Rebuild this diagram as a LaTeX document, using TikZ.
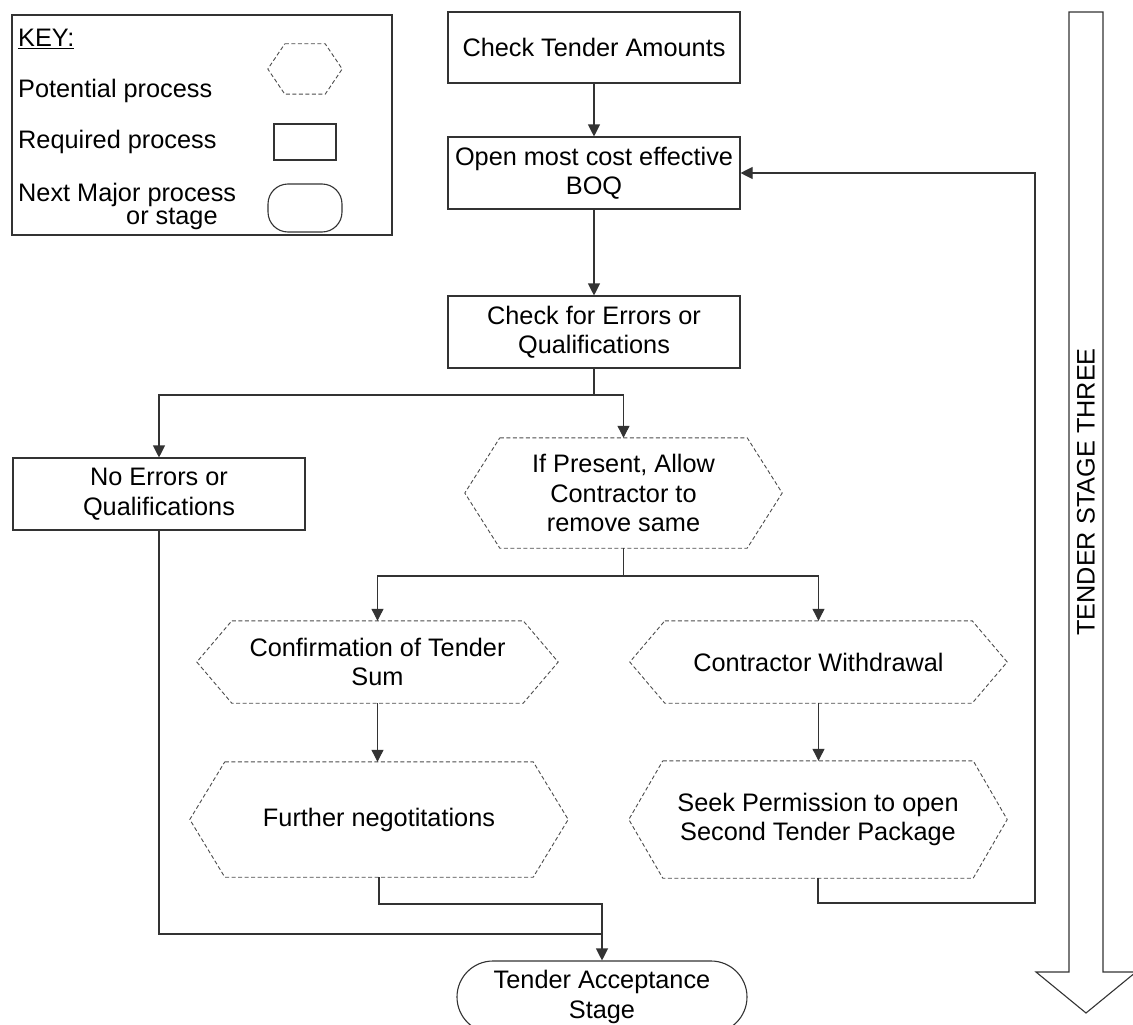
\documentclass[tikz,border=0pt]{standalone}
\usepackage{fontspec}
\setmainfont{Liberation Sans}
\usetikzlibrary{arrows.meta}

% dashed hexagon drawn over a borderless rectangular node
\newcommand\hexframe[2]{%
  \draw[hexline] ([xshift=#2]#1.north west) -- ([xshift=-#2]#1.north east)
    -- (#1.east) -- ([xshift=-#2]#1.south east) -- ([xshift=#2]#1.south west)
    -- (#1.west) -- cycle;}

\begin{document}
\begin{tikzpicture}[x=1pt,y=-1pt,
  every node/.style={font=\fontsize{25.3}{29.5}\selectfont, inner sep=0pt, align=center},
  line/.style={draw=black!80, line width=1.1pt},
  arr/.style={line, -{Triangle[length=12pt,width=12pt]}},
  procbox/.style={rectangle, draw=black!80, line width=1.1pt, minimum width=292pt, minimum height=72pt},
  hexbox/.style={rectangle, draw=none},
  hexline/.style={draw=black!70, line width=0.9pt, dash pattern=on 4pt off 2.5pt},
  termbox/.style={rectangle, draw=black!80, line width=1.1pt, rounded corners=36pt, minimum width=290pt, minimum height=72pt}]

\useasboundingbox (0,0) rectangle (1133,1025);
\clip (0,0) rectangle (1133,1025);

% ---- key ----
\node[procbox, minimum width=380pt, minimum height=220pt] (key) at (202,125) {};
\node[anchor=base west] (keytitle) at (18,47) {\underline{KEY:}};
\node[anchor=base west] (kpot) at (18,97) {Potential process};
\node[anchor=base west] (kreq) at (18,148) {Required process};
\node[anchor=north west, align=left, font=\fontsize{25.3}{23}\selectfont] (knext) at (18,183)
  {Next Major process\\\hspace*{108pt}or stage};
\node[hexbox, minimum width=74pt, minimum height=50pt] (khex) at (305,69) {};
\hexframe{khex}{17pt}
\node[procbox, minimum width=62pt, minimum height=36pt] (krect) at (305,142) {};
\node[procbox, rounded corners=20pt, minimum width=74pt, minimum height=48pt] (kterm) at (305,208) {};

% ---- process nodes ----
\node[procbox, minimum height=71pt] (cta) at (594,47.5) {Check Tender Amounts};
\node[procbox] (boq) at (594,173) {Open most cost effective\\BOQ};
\node[procbox] (chk) at (594,332) {Check for Errors or\\Qualifications};
\node[procbox] (noerr) at (159,494) {No Errors or\\Qualifications};

\node[hexbox, minimum width=317pt, minimum height=110pt] (pres) at (623.5,493)
  {If Present, Allow\\Contractor to\\remove same};
\hexframe{pres}{35pt}
\node[hexbox, minimum width=361pt, minimum height=82pt] (conf) at (377.5,662)
  {Confirmation of Tender\\Sum};
\hexframe{conf}{35pt}
\node[hexbox, minimum width=377pt, minimum height=82pt] (wd) at (818.5,662)
  {Contractor Withdrawal};
\hexframe{wd}{35pt}
\node[hexbox, minimum width=378pt, minimum height=115pt] (fneg) at (379,819.5)
  {Further negotitations};
\hexframe{fneg}{35pt}
\node[hexbox, minimum width=378pt, minimum height=117pt] (seek) at (818,819.5)
  {Seek Permission to open\\Second Tender Package};
\hexframe{seek}{34pt}

\node[termbox] (term) at (602,997) {Tender Acceptance\\Stage};

% ---- junction points ----
\coordinate (j1) at (594,395);
\coordinate (j2) at (623.5,576);
\coordinate (j3) at (602,904);
\coordinate (j4) at (602,934);
\coordinate (fb) at (1035,903);

% ---- connectors ----
\draw[arr] (cta) -- (boq);
\draw[arr] (boq) -- (chk);
\draw[line] (chk.south) -- (j1);
\draw[arr] (j1) -| (noerr.north);
\draw[arr] (j1) -| (pres.north);
\draw[line] (pres.south) -- (j2);
\draw[arr] (j2) -| (conf.north);
\draw[arr] (j2) -| (wd.north);
\draw[arr] (conf.south) -- (conf.south |- fneg.north);
\draw[arr] (wd.south) -- (wd.south |- seek.north);
\draw[arr] (seek.south) |- (fb) |- (boq.east);
\draw[arr] (fneg.south) |- (j3) -- (term.north);
\draw[line] (noerr.south) |- (j4);

% ---- stage arrow ----
\draw[line] (1069,12) -- (1103,12) -- (1103,972) -- (1136,972) -- (1086,1013)
  -- (1036,972) -- (1069,972) -- cycle;
\node[rotate=90] (stage) at (1086,492) {TENDER STAGE THREE};
\end{tikzpicture}
\end{document}
